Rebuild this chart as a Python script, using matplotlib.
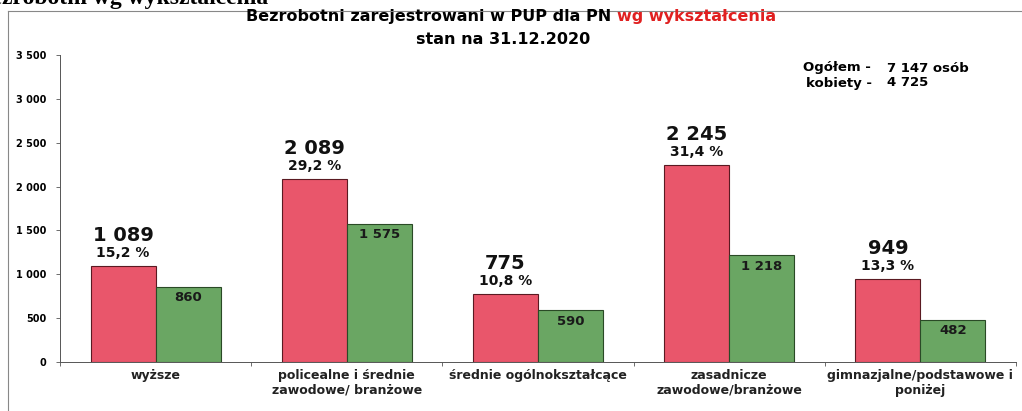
import matplotlib.pyplot as plt
from matplotlib.lines import Line2D
import numpy as np

categories = [
    "wyższe",
    "policealne i średnie\nzawodowe/ branżowe",
    "średnie ogólnokształcące",
    "zasadnicze\nzawodowe/branżowe",
    "gimnazjalne/podstawowe i\nponiżej",
]
ogolem = [1089, 2089, 775, 2245, 949]
kobiety = [860, 1575, 590, 1218, 482]
procent = ["15,2 %", "29,2 %", "10,8 %", "31,4 %", "13,3 %"]
yticks = [0, 500, 1000, 1500, 2000, 2500, 3000, 3500]

RED = "#e9566b"
GREEN = "#6aa663"
W, H = 1022, 411


def fmt(v):
    return f"{v:,}".replace(",", " ")


fig = plt.figure(figsize=(W / 100, H / 100), dpi=100)
plt.rcParams["font.family"] = ["DejaVu Sans"]

# page heading, cut off by the top edge of the scan
fig.text(268 / W, 1 - 4 / H, "Bezrobotni wg wykształcenia", ha="right",
         va="baseline", fontsize=17, fontweight="bold",
         family="Liberation Serif")

# frame around the chart
fig.add_artist(Line2D([8 / W, 1], [1 - 11 / H, 1 - 11 / H],
                      color="#888888", lw=0.8))
fig.add_artist(Line2D([8 / W, 8 / W], [0, 1 - 11 / H],
                      color="#888888", lw=0.8))

ax = fig.add_axes([60 / W, (H - 362) / H, (1016 - 60) / W, 307 / H])

x = np.arange(len(categories))
bw = 0.34
ax.bar(x - bw / 2, ogolem, bw, color=RED, edgecolor="#5a1a22", linewidth=0.8)
ax.bar(x + bw / 2, kobiety, bw, color=GREEN, edgecolor="#2a4a26", linewidth=0.8)

for i in range(len(categories)):
    ax.annotate(fmt(ogolem[i]), (x[i] - bw / 2, ogolem[i]), xytext=(0, 25),
                textcoords="offset pixels", ha="center", va="baseline",
                fontsize=14, fontweight="bold", color="#111111")
    ax.annotate(procent[i], (x[i] - bw / 2, ogolem[i]), xytext=(0, 9),
                textcoords="offset pixels", ha="center", va="baseline",
                fontsize=10, fontweight="bold", color="#111111")
    ax.annotate(fmt(kobiety[i]), (x[i] + bw / 2, kobiety[i]), xytext=(0, -11),
                textcoords="offset pixels", ha="center", va="center",
                fontsize=9.5, fontweight="bold", color="#1a1a1a")

ax.set_xlim(-0.5, len(categories) - 0.5)
ax.set_ylim(0, 3500)
ax.set_yticks(yticks)
ax.set_yticklabels([fmt(v) for v in yticks], fontsize=7, fontweight="bold")
ax.tick_params(axis="y", length=3, width=0.6, color="#555555", pad=7)

ax.set_xticks(x)
ax.set_xticklabels(categories, fontsize=9, fontweight="bold",
                   linespacing=1.2, color="#222222")
ax.set_xticks(np.arange(-0.5, len(categories)), minor=True)
ax.tick_params(axis="x", which="major", length=0, pad=5)
ax.tick_params(axis="x", which="minor", length=3, width=0.6, color="#555555")

for side in ["top", "right"]:
    ax.spines[side].set_visible(False)
for side in ["left", "bottom"]:
    ax.spines[side].set_color("#555555")
    ax.spines[side].set_linewidth(0.7)

# title with red part
t1 = fig.text(0, 1 - 17 / H, "Bezrobotni zarejestrowani w PUP dla PN ",
              ha="left", va="center", fontsize=11.5, fontweight="bold")
fig.canvas.draw()
r = fig.canvas.get_renderer()
t2 = fig.text(0, 1 - 17 / H, "wg wykształcenia", ha="left", va="center",
              fontsize=11.5, fontweight="bold", color="#e02020")
w1 = t1.get_window_extent(r).width
w2 = t2.get_window_extent(r).width
start = (511 - (w1 + w2) / 2) / W
t1.set_x(start)
t2.set_x(start + w1 / W)
fig.text(503 / W, 1 - 40 / H, "stan na 31.12.2020", ha="center", va="center",
         fontsize=11.5, fontweight="bold")

fig.text(803 / W, 1 - 68 / H, "Ogółem -", ha="left", va="center",
         fontsize=9.5, fontweight="bold")
fig.text(887 / W, 1 - 68 / H, "7 147 osób", ha="left", va="center",
         fontsize=9.5, fontweight="bold")
fig.text(806 / W, 1 - 83 / H, "kobiety -", ha="left", va="center",
         fontsize=9.5, fontweight="bold")
fig.text(887 / W, 1 - 83 / H, "4 725", ha="left", va="center",
         fontsize=9.5, fontweight="bold")

fig.savefig("out.png", dpi=100)
